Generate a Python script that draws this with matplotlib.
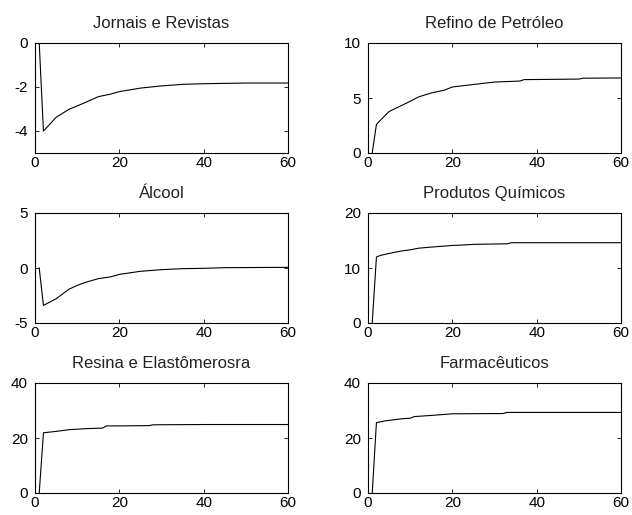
import numpy as np
import matplotlib
matplotlib.use("Agg")
import matplotlib.pyplot as plt

plt.rcParams['font.family'] = ['Liberation Sans', 'DejaVu Sans']
plt.rcParams['axes.unicode_minus'] = False

jornais_x = [1, 2, 3, 5, 8, 10, 12, 15, 18, 20, 25, 30, 35, 40, 50, 60]
jornais_y = [0, -4.0, -3.8, -3.38, -3.02, -2.86, -2.7, -2.44, -2.32, -2.21, -2.05, -1.95, -1.88, -1.85, -1.82, -1.82]

refino_x = [1, 2, 3, 5, 7, 10, 12, 15, 18, 20, 25, 30, 36, 37, 50, 51, 60]
refino_y = [0, 2.6, 3.0, 3.77, 4.14, 4.7, 5.1, 5.46, 5.7, 6.0, 6.23, 6.45, 6.54, 6.67, 6.72, 6.8, 6.82]

alcool_x = [1, 2, 3, 5, 8, 10, 12, 15, 18, 20, 25, 30, 35, 40, 45, 60]
alcool_y = [0, -3.4, -3.2, -2.8, -1.94, -1.58, -1.3, -0.97, -0.8, -0.58, -0.30, -0.15, -0.06, -0.03, 0.03, 0.06]

quimicos_x = [1, 2, 3, 5, 8, 10, 12, 15, 20, 23, 25, 33, 34, 40, 60]
quimicos_y = [0, 12.0, 12.3, 12.65, 13.1, 13.3, 13.6, 13.8, 14.1, 14.2, 14.3, 14.4, 14.6, 14.6, 14.6]

resina_x = [1, 2, 5, 8, 12, 16, 17, 20, 27, 28, 40, 60]
resina_y = [0, 21.9, 22.4, 23.0, 23.4, 23.6, 24.4, 24.4, 24.5, 24.8, 24.9, 24.9]

farma_x = [1, 2, 4, 8, 10, 11, 15, 20, 32, 33, 60]
farma_y = [0, 25.6, 26.2, 27.0, 27.2, 27.8, 28.2, 28.8, 28.9, 29.3, 29.3]

titles = ["Jornais e Revistas", "Refino de Petróleo", "Álcool",
          "Produtos Químicos", "Resina e Elastômerosra", "Farmacêuticos"]
series = [(jornais_x, jornais_y), (refino_x, refino_y), (alcool_x, alcool_y),
          (quimicos_x, quimicos_y), (resina_x, resina_y), (farma_x, farma_y)]
ylims = [(-5, 0), (0, 10), (-5, 5), (0, 20), (0, 40), (0, 40)]
yticks = [[-4, -2, 0], [0, 5, 10], [-5, 0, 5], [0, 10, 20], [0, 20, 40], [0, 20, 40]]

W, H = 632, 515
fig = plt.figure(figsize=(W / 100, H / 100), dpi=100)

lefts = [35, 368]
tops = [43, 213, 383]
aw, ah = 253, 110

for i, (title, (xs, ys)) in enumerate(zip(titles, series)):
    r, c = divmod(i, 2)
    ax = fig.add_axes([lefts[c] / W, 1 - (tops[r] + ah) / H, aw / W, ah / H])
    ax.plot(xs, ys, color='black', linewidth=0.8)
    ax.set_xlim(0, 60)
    ax.set_ylim(*ylims[i])
    ax.set_xticks([0, 20, 40, 60])
    ax.set_yticks(yticks[i])
    ax.tick_params(direction='in', top=True, right=True, length=3, width=0.6,
                   labelsize=11, colors='black')
    ax.tick_params(axis='x', pad=2)
    ax.tick_params(axis='y', pad=5)
    for s in ax.spines.values():
        s.set_linewidth(0.8)
    ax.set_title(title, fontsize=12, pad=11, color='#222222')

fig.savefig("out.png", dpi=100)
